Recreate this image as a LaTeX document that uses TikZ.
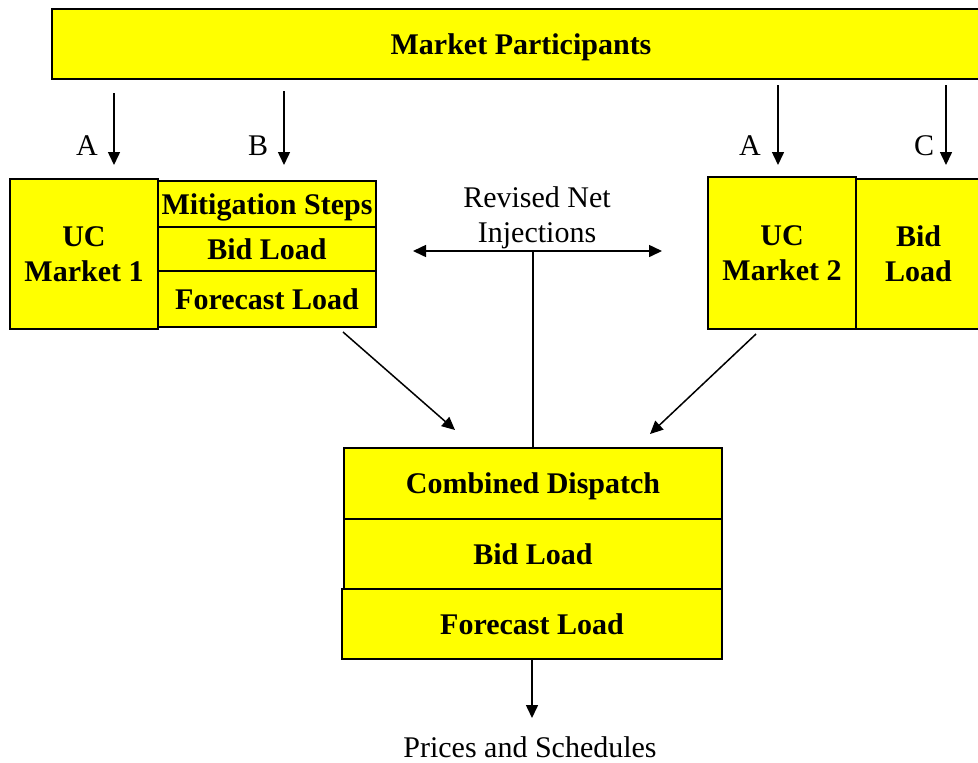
\documentclass[tikz,border=0pt]{standalone}
\usepackage{fontspec}
\setmainfont{Liberation Serif}
\usetikzlibrary{arrows.meta}
\definecolor{boxyellow}{RGB}{255,255,0}
\begin{document}
\begin{tikzpicture}[x=0.5pt,y=-0.5pt,
  box/.style={draw=black, line width=1pt, fill=boxyellow, inner sep=0pt,
    font=\fontsize{15}{17.5}\selectfont\bfseries, align=center},
  oneline/.style={text height=10pt, text depth=0pt},
  lbl/.style={inner sep=0pt, font=\fontsize{15}{17.5}\selectfont, align=center},
  arr/.style={line width=0.75pt, -{Triangle[length=6.5pt,width=6pt]}},
  darr/.style={line width=0.75pt, {Triangle[length=6.5pt,width=6pt]}-{Triangle[length=6.5pt,width=6pt]}},
  plain/.style={line width=0.75pt}]
\useasboundingbox (0,0) rectangle (978,762);
% boxes
\node[box, oneline, minimum width=469pt, minimum height=35pt] (mp) at (521,44) {Market Participants};
\node[box, minimum width=74pt, minimum height=75pt] (uc1) at (84,254) {UC\\Market 1};
\node[box, oneline, minimum width=109pt, minimum height=23pt] (ms) at (267,204) {Mitigation Steps};
\node[box, oneline, minimum width=109pt, minimum height=22pt] (bl1) at (267,249) {Bid Load};
\node[box, oneline, minimum width=109pt, minimum height=28pt] (fl1) at (267,299) {Forecast Load};
\node[box, minimum width=74pt, minimum height=76pt] (uc2) at (782,253) {UC\\Market 2};
\node[box, minimum width=62.5pt, minimum height=75pt] (bl2) at (918.5,254) {Bid\\Load};
\node[box, oneline, minimum width=189pt, minimum height=35.5pt] (cd) at (533,483.5) {Combined Dispatch};
\node[box, oneline, minimum width=189pt, minimum height=35pt] (bl3) at (533,554) {Bid Load};
\node[box, oneline, minimum width=190pt, minimum height=35pt] (fl3) at (532,624) {Forecast Load};
% labels
\node[lbl] (la1) at (87,146) {A};
\node[lbl] (lb) at (258,146) {B};
\node[lbl] (la2) at (750,146) {A};
\node[lbl] (lc) at (924,146) {C};
\node[lbl] (rni) at (537,218) {Revised Net\\Injections};
\node[lbl] (ps) at (530,747) {Prices and Schedules};
% coordinates
\coordinate (a1) at (114,0);
\coordinate (b1) at (284,0);
\coordinate (a2) at (778,0);
\coordinate (c1) at (946,0);
\coordinate (rniL) at (413,251);
\coordinate (rniR) at (662,251);
\coordinate (d1s) at (343,332);
\coordinate (d1e) at (455,430);
\coordinate (d2s) at (756,334);
\coordinate (d2e) at (650,434);
\coordinate (pse) at (532,718);
% connectors
\draw[arr, shorten <=6.5pt, shorten >=6.5pt] (mp.south -| a1) -- (uc1.north -| a1);
\draw[arr, shorten <=5.5pt, shorten >=7.5pt] (mp.south -| b1) -- (ms.north -| b1);
\draw[arr, shorten <=2.5pt, shorten >=5.5pt] (mp.south -| a2) -- (uc2.north -| a2);
\draw[arr, shorten <=2.5pt, shorten >=6.5pt] (mp.south -| c1) -- (bl2.north -| c1);
\draw[darr] (rniL) -- (rniR);
\draw[plain] (rniL -| cd.north) -- (cd.north);
\draw[arr] (d1s) -- (d1e);
\draw[arr] (d2s) -- (d2e);
\draw[arr] (fl3.south) -- (pse);
\end{tikzpicture}
\end{document}
